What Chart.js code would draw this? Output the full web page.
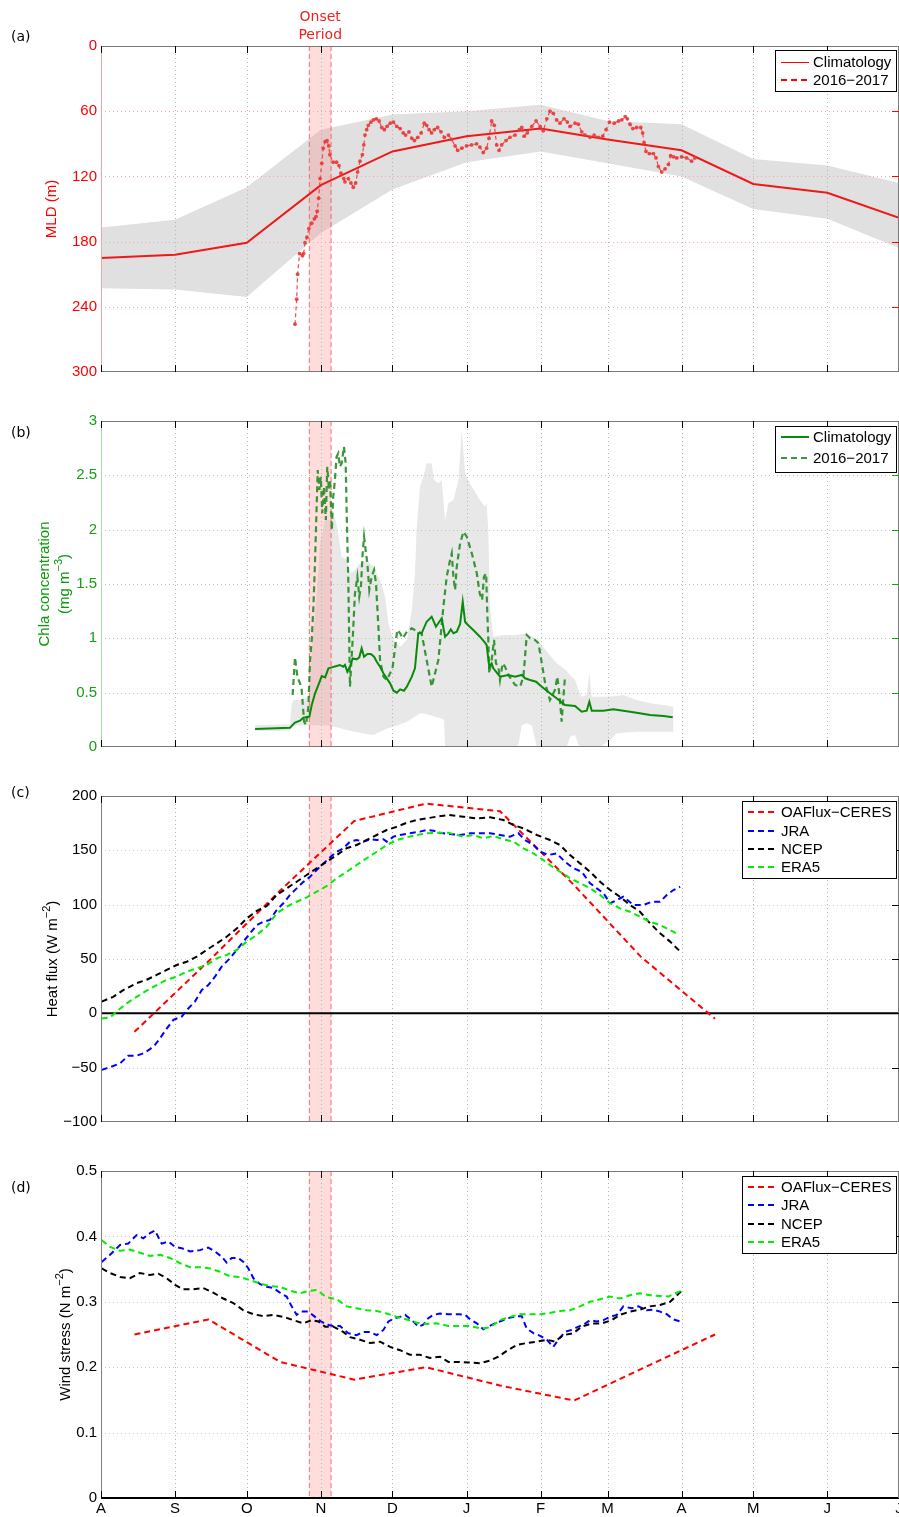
<!DOCTYPE html>
<html>
<head>
<meta charset="utf-8">
<script src="https://cdn.jsdelivr.net/npm/chart.js@4.4.1/dist/chart.umd.min.js"></script>
<style>
  body { margin: 0; background: #fff; }
  #wrap { position: relative; width: 899px; height: 1517px; }
  #wrap canvas { position: absolute; left: 0; }
</style>
</head>
<body>
<div id="wrap">
  <canvas id="pa" width="899" height="385" style="top:0px"></canvas>
  <canvas id="pb" width="899" height="375" style="top:385px"></canvas>
  <canvas id="pc" width="899" height="380" style="top:760px"></canvas>
  <canvas id="pd" width="899" height="377" style="top:1140px"></canvas>
</div>
<script>
// x axis: days since 1 Aug
const monthDays = [0, 31, 61, 92, 122, 153, 184, 212, 243, 273, 304, 334];
const monthLabels = ['A', 'S', 'O', 'N', 'D', 'J', 'F', 'M', 'A', 'M', 'J', 'J'];
const onsetDays = [87.2, 96.3];

// (a) mixed layer depth
const mldClim = [195, 192, 181, 128, 97, 83, 76, 86, 96, 127, 135, 158];
const mldBandShallow = [167, 160, 130, 77, 63, 60, 54, 69, 72, 104, 110, 126];
const mldBandDeep = [223, 224, 231, 172, 132, 107, 97, 108, 120, 150, 159, 186];
const mldObsDays = [
  81.2, 81.9, 82.3, 83.1, 84.3, 84.8, 85.4, 86.2, 87, 88.2,
  89.3, 90, 90.5, 91.1, 91.7, 92.4, 93, 93.8, 94.6, 95.3,
  95.8, 97.2, 98.6, 99.6, 100.4, 101.6, 102.1, 103.5, 104.6, 105.6,
  106.6, 107.4, 108.4, 109.4, 110, 110.5, 111.2, 111.9, 113, 114,
  115.2, 116.4, 117.5, 118.6, 119.7, 121.1, 122.4, 123.8, 125.2, 126.5,
  127.5, 128.9, 130.1, 131.2, 132.6, 134, 135.3, 136.3, 137.3, 138.4,
  139.5, 140.9, 142.3, 143.7, 145.4, 146.8, 148.2, 149.3, 151, 153,
  155.1, 157.2, 158.6, 160, 161.4, 162.4, 163.5, 164.6, 165.6, 166.6,
  167.7, 169.5, 171.2, 173.3, 175.1, 176.1, 177.1, 178.4, 180.3, 182.1,
  183.8, 185.1, 186.6, 187.9, 189.3, 190.7, 192.1, 193.8, 195.2, 196.3,
  198.4, 199.8, 201.2, 202.6, 204.7, 206.4, 208.2, 210, 211.4, 212.8,
  214.8, 216.6, 218, 219.4, 220.3, 221.4, 222.6, 224.2, 225.9, 226.7,
  227.3, 228.1, 229.5, 231.2, 232.3, 233.3, 234.7, 236.1, 237.5, 238.4,
  239.6, 241, 243, 245.1, 247.2, 248.6];
const mldObs = [
  256, 233, 210, 191, 193, 191, 181, 176, 168, 163,
  159, 157, 152, 140, 122, 108, 94, 88, 87, 92,
  100, 107, 107, 110, 117, 122, 125, 122, 126, 130,
  126, 116, 106, 100, 91, 82, 77, 73, 70, 68,
  67, 69, 75, 77, 74, 71, 70, 74, 76, 80,
  82, 79, 85, 87, 84, 80, 71, 73, 77, 80,
  77, 75, 79, 84, 82, 86, 92, 96, 94, 92,
  91, 90, 93, 98, 94, 85, 69, 73, 91, 96,
  91, 87, 84, 82, 77, 75, 83, 80, 74, 69,
  74, 78, 67, 60, 62, 68, 71, 67, 70, 74,
  71, 72, 79, 82, 84, 82, 84, 83, 77, 70,
  71, 69, 68, 65, 67, 72, 76, 75, 75, 80,
  89, 97, 99, 99, 103, 111, 116, 113, 109, 101,
  102, 103, 102, 103, 106, 103];

// (b) chlorophyll a
const chlaClimDays = [
  64.5, 79.1, 81.2, 83.3, 84.7, 87.2, 88.2, 89.6, 91, 92.4,
  93.8, 95.2, 96.6, 98.6, 100, 101.4, 102.1, 103.1, 104.2, 105.3,
  107, 108.1, 109.1, 110.1, 111.5, 112.9, 114.3, 115.4, 116.8, 118.2,
  119.6, 121, 122.4, 123.8, 125.2, 126.8, 128, 130.1, 131.4, 132.8,
  134.2, 136.3, 138.4, 140.2, 141.6, 142.6, 144, 145.4, 146.4, 147.5,
  148.9, 150.3, 151.4, 152.4, 153.7, 155.8, 158.6, 160.7, 161.4, 162.5,
  163.5, 164.2, 167, 170.5, 173.3, 176.1, 177.5, 179.6, 182.1, 184.5,
  187.9, 190.7, 194.2, 198.4, 201.2, 203.3, 204.4, 205.4, 210.3, 214.4,
  218.6, 224.2, 229.8, 235.4, 239.3];
const chlaClim = [
  0.166, 0.178, 0.224, 0.242, 0.27, 0.279, 0.387, 0.494, 0.571, 0.653,
  0.641, 0.724, 0.733, 0.745, 0.755, 0.739, 0.755, 0.693, 0.739, 0.816,
  0.807, 0.825, 0.908, 0.831, 0.856, 0.856, 0.831, 0.785, 0.739, 0.678,
  0.632, 0.586, 0.518, 0.5, 0.531, 0.518, 0.555, 0.647, 0.724, 1.046,
  1.046, 1.153, 1.199, 1.107, 1.153, 1.184, 1.015, 1.046, 1.083, 1.046,
  1.061, 1.132, 1.337, 1.15, 1.12, 1.077, 1.015, 0.96, 0.939, 0.739,
  0.77, 0.724, 0.647, 0.663, 0.647, 0.663, 0.632, 0.617, 0.601, 0.555,
  0.494, 0.448, 0.387, 0.377, 0.325, 0.334, 0.417, 0.334, 0.334, 0.347,
  0.334, 0.316, 0.294, 0.285, 0.273];
const chlaObsDays = [
  80.2, 81.2, 82.2, 83.3, 84, 85, 85.8, 86.8, 87.5, 88.2,
  88.9, 89.6, 90.3, 90.7, 91.4, 92, 92.6, 93.3, 94.1, 94.7,
  95.4, 95.9, 96.6, 97.2, 97.9, 98.6, 99.3, 100, 100.7, 101.7,
  102.4, 102.9, 103.5, 104.2, 105.4, 106.3, 107.3, 108.1, 108.8, 109.5,
  110.1, 110.9, 111.5, 112.3, 113.3, 114.3, 115.1, 116.1, 116.8, 118.2,
  119.6, 121, 122.1, 124, 125.2, 126.3, 128, 130.1, 131.9, 134.2,
  136.3, 138.4, 141.2, 143.3, 144.7, 146.1, 146.8, 147.5, 148.2, 148.9,
  150.3, 151.7, 153.1, 155.2, 157.3, 158.5, 159.5, 160.3, 161.2, 161.6,
  162.1, 162.5, 163.5, 164.5, 165.3, 166.3, 167, 168.1, 169.1, 170.5,
  173.3, 175.4, 176.8, 178.2, 179.6, 181.7, 183.1, 184.5, 185.9, 187.9,
  190, 191, 192.1, 192.8, 193.5, 194.2];
const chlaObs = [
  0.479, 0.825, 0.647, 0.586, 0.525, 0.233, 0.202, 0.371, 0.8, 0.985,
  1.291, 1.721, 2.243, 2.549, 2.365, 2.487, 2.151, 2.395, 2.089, 2.579,
  2.365, 2.457, 1.997, 2.303, 2.457, 2.671, 2.702, 2.579, 2.61, 2.763,
  2.61, 2.089, 1.537, 0.555, 1.015, 1.414, 1.567, 1.383, 1.475, 1.782,
  1.935, 1.782, 1.69, 1.445, 1.567, 1.629, 1.506, 1.107, 0.8, 0.647,
  0.617, 0.678, 0.739, 1.077, 1.046, 1.0, 1.061, 1.092, 1.07, 1.046,
  0.8, 0.555, 0.8, 1.291, 1.567, 1.721, 1.782, 1.567, 1.445, 1.659,
  1.874, 1.981, 1.935, 1.782, 1.598, 1.414, 1.353, 1.567, 1.598, 1.29,
  0.985, 0.678, 0.8, 0.985, 0.77, 0.739, 0.617, 0.77, 0.739, 0.663,
  0.571, 0.555, 0.647, 1.03, 1.0, 0.985, 0.954, 0.77, 0.586, 0.432,
  0.525, 0.647, 0.432, 0.233, 0.45, 0.647];
const chlaBandDays = [
  64.5, 79.1, 79.8, 80.5, 83.3, 86.8, 88.2, 90.3, 91.7, 93.8,
  96.6, 97.9, 99.3, 100.7, 102.9, 104.2, 106.3, 108.4, 111.2, 114,
  116.8, 118.9, 120.3, 122.4, 125.2, 128, 130.1, 131.4, 132.1, 133.5,
  134.9, 136.3, 138.4, 139.4, 141.2, 142.6, 143.6, 144, 145.4, 147.5,
  149.6, 151, 152.4, 155.2, 158.6, 160.7, 161.4, 162.1, 162.8, 164.2,
  168.4, 173.3, 174.7, 176.1, 178.2, 180.3, 182.4, 183.8, 187.2, 190.7,
  194.9, 196.3, 198.4, 199.8, 201.2, 203.3, 204.4, 205.4, 208.9, 213.1,
  215.9, 218.6, 224.2, 229.8, 235.4, 239.6];
const chlaBandHi = [
  0.2, 0.21, 0.386, 0.432, 0.432, 0.463, 0.862, 1.414, 1.874, 2.089,
  2.089, 2.12, 1.966, 1.751, 1.721, 1.598, 1.629, 1.69, 1.721, 1.659,
  1.537, 1.383, 1.138, 0.985, 0.923, 0.985, 1.261, 1.598, 1.997, 2.395,
  2.487, 2.61, 2.61, 2.457, 2.426, 2.457, 2.2, 2.089, 2.243, 2.273,
  2.457, 2.917, 2.518, 2.395, 2.273, 2.212, 2.243, 1.997, 1.291, 1.015,
  1.031, 1.031, 1.035, 1.04, 1.046, 1.02, 0.98, 0.954, 0.862, 0.77,
  0.7, 0.66, 0.617, 0.53, 0.463, 0.479, 0.678, 0.463, 0.463, 0.465,
  0.47, 0.479, 0.432, 0.402, 0.386, 0.371];
const chlaBandLo = [
  0.15, 0.15, 0.19, 0.2, 0.2, 0.2, 0.2, 0.2, 0.2, 0.2,
  0.19, 0.185, 0.18, 0.17, 0.156, 0.15, 0.14, 0.13, 0.12, 0.11,
  0.141, 0.16, 0.175, 0.187, 0.21, 0.233, 0.26, 0.28, 0.29, 0.31,
  0.31, 0.3, 0.29, 0.28, 0.27, 0.26, 0.248, 0, 0, 0,
  0, 0, 0, 0, 0, 0, 0, 0, 0, 0,
  0, 0, 0.02, 0.2, 0.218, 0.2, 0, 0, 0, 0,
  0, 0.095, 0.11, 0.02, 0, 0, 0, 0, 0, 0.064,
  0.126, 0.13, 0.14, 0.141, 0.141, 0.141];

// (c) heat flux, (d) wind stress
const fluxMonthDays = [14, 45, 75, 106, 136, 167, 198, 226, 257];
const heatOaflux = [-17, 48, 113, 177, 193, 186, 118, 52, -5];
const stressOaflux = [0.25, 0.273, 0.208, 0.181, 0.2, 0.172, 0.149, 0.197, 0.25];

const heatJraDays = [
  0.3, 5.1, 8, 11.4, 14.9, 17.7, 20.5, 22.6, 24.7, 27.5,
  30.3, 33.8, 35.9, 39.3, 42.2, 44.9, 47.7, 50.5, 54, 56.8,
  59.6, 62.4, 65.2, 67.9, 70.7, 73.5, 76.3, 79.1, 81.9, 84.7,
  87.5, 91.7, 95.9, 98.7, 101.4, 104.2, 107, 109.8, 112.6, 115.4,
  118.2, 119.6, 122.4, 125.2, 129.3, 133.5, 136.3, 139.1, 141.9, 145.4,
  150.3, 154.5, 158.6, 162.8, 167, 171.2, 174.7, 177.5, 181, 183.8,
  187.2, 190.7, 194.2, 197.7, 201.2, 204.7, 207.5, 210.3, 213.1, 215.9,
  218.6, 222.8, 227, 230.5, 234, 236.8, 239.6, 242.4];
const heatJra = [
  -52, -48.5, -46, -39, -39, -36.8, -33, -29, -23, -14,
  -6, -3, 3, 10.8, 21.5, 26, 33.7, 43, 50.7, 58.4,
  66, 73.6, 81.3, 84.3, 85.9, 95, 101.3, 109, 115, 121,
  125.7, 135, 143.6, 148.7, 151.8, 158, 159.5, 158, 160.2, 159.5,
  160.2, 158, 162.6, 164.1, 165.7, 167.2, 168.7, 168.1, 166.2, 165,
  164.1, 165.7, 165.7, 165.7, 164.1, 162.6, 165.7, 159.5, 154.9, 148.7,
  145.7, 147.2, 139.5, 133.5, 130.3, 119.7, 115, 110.5, 101.3, 104.3,
  107.3, 99.7, 99.7, 102.7, 102.7, 108.9, 113.5, 116.5];
const heatNcepDays = [
  0.3, 5.1, 9.3, 14.9, 19.1, 23.3, 27.5, 31.7, 35.9, 40.1,
  44.2, 48.4, 52.6, 56.8, 61, 65.2, 69.4, 73.5, 77.7, 81.9,
  86.1, 90.3, 94.5, 98.7, 102.8, 107, 111.2, 115.4, 119.6, 123.8,
  128, 132.1, 136.3, 140.5, 145.4, 151.7, 157.3, 162.8, 168.4, 172.6,
  176.8, 182.4, 187.9, 192.1, 196.3, 200.5, 204.7, 208.9, 213.1, 217.2,
  221.4, 225.6, 229.8, 234, 238.2, 242.1];
const heatNcep = [
  10.8, 15.2, 21.3, 27.8, 30.9, 35.3, 40, 44.5, 47.5, 52.2,
  58.3, 64.3, 70.5, 78, 87.3, 94.3, 98.8, 108.9, 115, 121.1,
  127.3, 133.5, 139.5, 145.7, 151.9, 154.9, 159.5, 164.1, 168.7, 171.7,
  175.4, 177.9, 179.4, 181, 182.5, 181, 179.4, 180.4, 177.9, 173.3,
  170.2, 164.1, 159.5, 154.9, 145.7, 138, 130.3, 121.1, 113.5, 107.3,
  99.7, 93.5, 82.9, 73.6, 66, 57.6];
const heatEraDays = [
  0.3, 3.8, 7.2, 10.8, 14.9, 19.1, 23.3, 27.5, 31.7, 35.9,
  40.1, 44.2, 48.4, 52.6, 56.8, 61, 65.2, 69.4, 73.5, 77.7,
  81.9, 86.1, 90.3, 94.5, 98.7, 102.8, 107, 111.2, 115.4, 119.6,
  123.8, 128, 132.1, 136.3, 140.5, 145.4, 151.7, 155.8, 160, 164.2,
  168.4, 172.6, 176.8, 181, 185.1, 187.9, 192.1, 196.3, 200.5, 204.7,
  208.9, 213.1, 217.2, 221.4, 225.6, 229.8, 234, 238.2, 242.1];
const heatEra = [
  -4.8, -3.8, 3, 9.2, 15.2, 20.8, 26, 30.9, 33.7, 38.4,
  41.4, 44.5, 50.6, 53.7, 58.3, 66, 72.1, 79.8, 92, 98.1,
  102.7, 106.7, 111.9, 117.2, 124.3, 130.3, 136.5, 142.7, 148.7, 154.9,
  159.5, 162, 164.1, 165.7, 166.2, 166.2, 162.6, 164.1, 161.1, 163.2,
  160.2, 158, 151.9, 147.2, 141.1, 136.5, 130.3, 124.3, 119.7, 115.1,
  108.9, 101.3, 96.6, 93.5, 88.9, 84.3, 81.3, 76.6, 72.1];

const stressJraDays = [
  0.3, 3.8, 8, 11.4, 14.9, 17.7, 20.5, 22.6, 25.4, 28.2,
  31, 33.8, 37.3, 41.4, 44.9, 47.7, 50.5, 52.6, 54.7, 57.5,
  59.6, 61.7, 63.8, 66.6, 69.4, 72.1, 74.9, 77.7, 79.8, 81.9,
  84, 86.8, 89.6, 91.7, 94.5, 97.2, 100, 103.5, 107, 109.8,
  112.6, 115.4, 118.2, 120.3, 123.1, 125.2, 127.3, 130.1, 132.8, 134.9,
  137, 139.1, 141.9, 145.4, 149.6, 152.4, 154.5, 157.3, 160, 162.1,
  164.9, 167.7, 170.5, 174, 176.1, 178.2, 181, 183.8, 186.6, 189.3,
  191.4, 194.2, 197, 199.8, 201.9, 204.7, 207.5, 210.3, 213.1, 215.9,
  218.6, 222.1, 224.9, 228.4, 231.2, 234, 236.8, 239.6, 242.4];
const stressJra = [
  0.361, 0.372, 0.387, 0.389, 0.402, 0.397, 0.405, 0.409, 0.389, 0.392,
  0.384, 0.382, 0.377, 0.379, 0.383, 0.377, 0.369, 0.36, 0.367, 0.367,
  0.361, 0.351, 0.336, 0.327, 0.323, 0.321, 0.314, 0.308, 0.293, 0.28,
  0.285, 0.285, 0.277, 0.271, 0.265, 0.263, 0.263, 0.252, 0.249, 0.254,
  0.254, 0.249, 0.257, 0.27, 0.275, 0.277, 0.28, 0.272, 0.262, 0.265,
  0.275, 0.28, 0.282, 0.281, 0.281, 0.28, 0.273, 0.267, 0.258, 0.262,
  0.267, 0.271, 0.275, 0.278, 0.278, 0.259, 0.252, 0.248, 0.242, 0.231,
  0.242, 0.254, 0.257, 0.262, 0.265, 0.272, 0.27, 0.272, 0.277, 0.28,
  0.293, 0.29, 0.293, 0.287, 0.288, 0.285, 0.281, 0.273, 0.27];
const stressNcepDays = [
  0.3, 3.8, 8, 12.1, 16.3, 20.5, 24, 27.5, 31, 34.4,
  38.6, 42.8, 47, 51.2, 55.4, 59.6, 63.8, 67.9, 72.1, 76.3,
  80.5, 84.7, 88.2, 91, 93.8, 97.2, 101.4, 104.2, 108.4, 112.6,
  116.8, 121, 125.2, 129.3, 133.5, 137.7, 141.9, 145.4, 150.3, 154.5,
  158.6, 162.8, 166.3, 169.8, 174, 178.2, 182.4, 186.6, 190, 193.5,
  197.7, 201.2, 205.4, 209.6, 213.8, 217.2, 221.4, 225.6, 229.8, 234,
  238.2, 243.1];
const stressNcep = [
  0.351, 0.344, 0.338, 0.336, 0.344, 0.341, 0.343, 0.336, 0.326, 0.319,
  0.319, 0.321, 0.314, 0.305, 0.298, 0.287, 0.281, 0.278, 0.28, 0.277,
  0.272, 0.267, 0.272, 0.27, 0.262, 0.262, 0.254, 0.246, 0.242, 0.237,
  0.239, 0.231, 0.226, 0.219, 0.219, 0.214, 0.216, 0.208, 0.208, 0.207,
  0.206, 0.21, 0.216, 0.225, 0.234, 0.237, 0.239, 0.242, 0.239, 0.249,
  0.252, 0.262, 0.267, 0.267, 0.272, 0.28, 0.285, 0.288, 0.293, 0.295,
  0.3, 0.317];
const stressEraDays = [
  0.3, 3.8, 8, 12.1, 16.3, 20.5, 24.7, 28.9, 33.1, 37.3,
  41.4, 45.6, 49.8, 54, 58.2, 62.4, 66.6, 70.7, 74.9, 79.1,
  83.3, 87.5, 90.3, 94.5, 98.7, 102.8, 107, 111.2, 115.4, 119.6,
  123.8, 128, 132.1, 136.3, 140.5, 145.4, 150.3, 154.5, 159.3, 162.8,
  167, 171.2, 175.4, 179.6, 183.8, 187.9, 192.1, 196.3, 200.5, 204.7,
  208.9, 213.1, 217.2, 221.4, 225.6, 229.8, 234, 237.5, 241, 243.1];
const stressEra = [
  0.394, 0.384, 0.378, 0.38, 0.375, 0.37, 0.372, 0.367, 0.359, 0.353,
  0.353, 0.351, 0.346, 0.339, 0.338, 0.333, 0.328, 0.324, 0.323, 0.317,
  0.313, 0.317, 0.318, 0.307, 0.304, 0.293, 0.29, 0.287, 0.286, 0.282,
  0.277, 0.273, 0.268, 0.266, 0.267, 0.263, 0.263, 0.263, 0.259, 0.261,
  0.272, 0.277, 0.281, 0.281, 0.281, 0.283, 0.286, 0.287, 0.293, 0.3,
  0.304, 0.308, 0.305, 0.31, 0.313, 0.31, 0.309, 0.308, 0.314, 0.317];

const FONT = '"Liberation Sans", Arial, Helvetica, sans-serif';
const TAGFONT = '14px "DejaVu Sans", sans-serif';

const pts = (xs, ys) => xs.map((x, i) => ({ x: x, y: ys[i] }));
const minus = s => String(s).replace('-', '\u2212');

// per-panel decoration (frame, grid, legend, titles)
const decorCfg = {
  pa: { tag: '(a)', tagY: 37, leftAxis: '#f5a3a3', hGrid: '#f2a9a9', sideTick: '#ff0000',
        titleColor: '#ff0000', titles: [{ x: 52, parts: [['MLD (m)', 0]] }],
        legend: { x: 775, y: 50, w: 121, h: 41, rows: [62, 80], line: [781, 809], text: 813 },
        onsetText: true },
  pb: { tag: '(b)', tagY: 48, leftAxis: '#aad8aa', hGrid: '#a6d4a6', sideTick: '#13a013',
        titleColor: '#0a9a0a',
        titles: [{ x: 45, parts: [['Chla concentration', 0]] },
                 { x: 65, parts: [['(mg m', 0], ['\u22123', 1], [')', 0]] }],
        legend: { x: 775, y: 41, w: 121, h: 46, rows: [52, 73], line: [781, 809], text: 813 } },
  pc: { tag: '(c)', tagY: 33, leftAxis: '#808080', hGrid: '#cccccc', sideTick: '#000', zero: true,
        titleColor: '#000', titles: [{ x: 53, parts: [['Heat flux (W m', 0], ['\u22122', 1], [')', 0]] }],
        legend: { x: 742, y: 41, w: 154, h: 77, rows: [52, 71, 89, 107], line: [748, 778], text: 781 } },
  pd: { tag: '(d)', tagY: 48, leftAxis: '#808080', hGrid: '#cccccc', sideTick: '#000', zero: true,
        xLabels: true, titleColor: '#000',
        titles: [{ x: 66, parts: [['Wind stress (N m', 0], ['\u22122', 1], [')', 0]] }],
        legend: { x: 742, y: 36, w: 154, h: 77, rows: [47, 65, 84, 102], line: [748, 778], text: 781 } }
};

function seg(ctx, x0, y0, x1, y1) {
  ctx.beginPath(); ctx.moveTo(x0, y0); ctx.lineTo(x1, y1); ctx.stroke();
}

function vtext(ctx, cx, cy, parts, color) {
  ctx.save();
  ctx.translate(cx, cy);
  ctx.rotate(-Math.PI / 2);
  ctx.fillStyle = color;
  ctx.textBaseline = 'middle';
  ctx.textAlign = 'left';
  let w = 0;
  parts.forEach(p => { ctx.font = p[1] ? '11px ' + FONT : '15px ' + FONT; w += ctx.measureText(p[0]).width; });
  let xx = -w / 2;
  parts.forEach(p => {
    ctx.font = p[1] ? '11px ' + FONT : '15px ' + FONT;
    ctx.fillText(p[0], xx, p[1] ? -6 : 0);
    xx += ctx.measureText(p[0]).width;
  });
  ctx.restore();
}

const decor = {
  id: 'decor',
  beforeDatasetsDraw(chart) {
    const c = decorCfg[chart.canvas.id];
    const ctx = chart.ctx, a = chart.chartArea, x = chart.scales.x, y = chart.scales.y;
    const x0 = x.getPixelForValue(onsetDays[0]), x1 = x.getPixelForValue(onsetDays[1]);
    ctx.save();
    ctx.fillStyle = 'rgba(255,120,120,0.25)';
    ctx.fillRect(x0, a.top, x1 - x0, a.bottom - a.top);
    ctx.lineWidth = 1;
    ctx.setLineDash([1, 3]);
    ctx.strokeStyle = '#b4b4b4';
    monthDays.slice(1, -1).forEach(d => {
      const px = Math.round(x.getPixelForValue(d)) + 0.5;
      seg(ctx, px, a.top, px, a.bottom);
    });
    ctx.strokeStyle = c.hGrid;
    y.ticks.forEach(t => {
      if (t.value === y.min || t.value === y.max) return;
      const py = Math.round(y.getPixelForValue(t.value)) + 0.5;
      seg(ctx, a.left, py, a.right, py);
    });
    ctx.setLineDash([5, 3]);
    ctx.strokeStyle = 'rgba(240,90,90,0.85)';
    seg(ctx, x0, a.top, x0, a.bottom);
    seg(ctx, x1, a.top, x1, a.bottom);
    if (c.zero) {
      ctx.setLineDash([]);
      ctx.lineWidth = 2;
      ctx.strokeStyle = '#000';
      const py = y.getPixelForValue(0);
      seg(ctx, a.left, py, a.right, py);
    }
    ctx.restore();
  },
  afterDatasetsDraw(chart) {
    const c = decorCfg[chart.canvas.id];
    const ctx = chart.ctx, a = chart.chartArea, x = chart.scales.x, y = chart.scales.y;
    ctx.save();
    ctx.setLineDash([]);
    ctx.lineWidth = 1;
    // box
    ctx.strokeStyle = '#7a7a7a';
    seg(ctx, a.left, a.top + 0.5, a.right, a.top + 0.5);
    if (chart.canvas.id !== 'pd') seg(ctx, a.left, a.bottom - 0.5, a.right, a.bottom - 0.5);
    seg(ctx, a.right - 0.5, a.top, a.right - 0.5, a.bottom);
    ctx.strokeStyle = c.leftAxis;
    seg(ctx, a.left + 0.5, a.top, a.left + 0.5, a.bottom);
    // month ticks, top and bottom, pointing in
    ctx.strokeStyle = '#000';
    monthDays.forEach(d => {
      const px = Math.round(x.getPixelForValue(d)) + 0.5;
      seg(ctx, px, a.top, px, a.top + 7);
      seg(ctx, px, a.bottom, px, a.bottom - 7);
    });
    // right side ticks
    ctx.strokeStyle = c.sideTick;
    y.ticks.forEach(t => {
      if (t.value === y.min || t.value === y.max) return;
      const py = Math.round(y.getPixelForValue(t.value)) + 0.5;
      seg(ctx, a.right - 7, py, a.right, py);
    });
    // legend
    const L = c.legend;
    ctx.fillStyle = '#fff';
    ctx.fillRect(L.x, L.y, L.w, L.h);
    ctx.strokeStyle = '#000';
    ctx.strokeRect(L.x + 0.5, L.y + 0.5, L.w, L.h);
    const items = chart.data.datasets.filter(ds => ds.inLegend);
    items.forEach((ds, i) => {
      const ry = L.rows[i];
      ctx.strokeStyle = ds.legendColor || ds.borderColor;
      ctx.lineWidth = ds.legendWidth || ds.borderWidth;
      ctx.setLineDash(ds.legendDash || ds.borderDash || []);
      const ly = ctx.lineWidth === 1 ? ry + 0.5 : ry;
      seg(ctx, L.line[0], ly, L.line[1], ly);
      ctx.setLineDash([]);
      ctx.fillStyle = '#000';
      ctx.font = '15px ' + FONT;
      ctx.textAlign = 'left';
      ctx.textBaseline = 'middle';
      ctx.fillText(ds.label, L.text, ry + 1);
    });
    // axis titles
    c.titles.forEach(t => vtext(ctx, t.x, (a.top + a.bottom) / 2, t.parts, c.titleColor));
    // panel tag
    ctx.fillStyle = '#000';
    ctx.font = TAGFONT;
    ctx.textAlign = 'left';
    ctx.textBaseline = 'middle';
    ctx.fillText(c.tag, 11, c.tagY);
    if (c.onsetText) {
      const mx = x.getPixelForValue((onsetDays[0] + onsetDays[1]) / 2);
      ctx.fillStyle = '#f22020';
      ctx.textAlign = 'center';
      ctx.textBaseline = 'alphabetic';
      ctx.fillText('Onset', mx, 21);
      ctx.fillText('Period', mx, 39);
    }
    if (c.xLabels) {
      ctx.fillStyle = '#000';
      ctx.font = '15px ' + FONT;
      ctx.textAlign = 'center';
      ctx.textBaseline = 'middle';
      monthDays.forEach((d, i) => ctx.fillText(monthLabels[i], x.getPixelForValue(d), a.bottom + 11));
    }
    ctx.restore();
  }
};

function panel(id, o) {
  return new Chart(document.getElementById(id), {
    type: 'line',
    data: { datasets: o.datasets },
    options: {
      responsive: false,
      animation: false,
      events: [],
      layout: { autoPadding: false, padding: { top: o.top, bottom: o.bottom, left: 0, right: 0 } },
      elements: { line: { tension: 0 }, point: { radius: 0 } },
      plugins: {
        legend: { display: false },
        tooltip: { enabled: false },
        filler: { drawTime: 'beforeDatasetsDraw' }
      },
      scales: {
        x: { type: 'linear', min: 0, max: 334, display: false },
        y: {
          type: 'linear', min: o.min, max: o.max, reverse: !!o.reverse,
          grid: { display: false, drawTicks: false },
          border: { display: false },
          ticks: {
            stepSize: o.step, color: o.tickColor, padding: 4,
            font: { family: FONT, size: 15 },
            callback: v => minus(+v.toFixed(2))
          },
          afterFit: s => { s.width = 101; }
        }
      }
    },
    plugins: [decor]
  });
}

const noLine = 'rgba(0,0,0,0)';

panel('pa', {
  top: 46, bottom: 13, min: 0, max: 300, step: 60, reverse: true, tickColor: '#ff0000',
  datasets: [
    { data: pts(monthDays, mldBandShallow), fill: '+1', backgroundColor: '#e0e0e0', borderColor: noLine, borderWidth: 0, order: 10 },
    { data: pts(monthDays, mldBandDeep), fill: false, borderColor: noLine, borderWidth: 0, order: 11 },
    { label: 'Climatology', inLegend: true, data: pts(monthDays, mldClim), borderColor: '#f01818', borderWidth: 2,
      legendColor: '#ff0000', legendWidth: 1, order: 2 },
    { label: '2016\u22122017', inLegend: true, data: pts(mldObsDays, mldObs), borderColor: 'rgba(240,60,60,0.9)',
      borderWidth: 1.2, borderDash: [4, 3], legendColor: '#ff0000', legendWidth: 2, legendDash: [6, 4],
      pointRadius: 1.9, pointBackgroundColor: 'rgba(235,55,55,0.9)', pointBorderWidth: 0, order: 1 }
  ]
});

panel('pb', {
  top: 36, bottom: 13, min: 0, max: 3, step: 0.5, tickColor: '#13a013',
  datasets: [
    { data: pts(chlaBandDays, chlaBandHi), fill: '+1', backgroundColor: '#e8e8e8', borderColor: noLine, borderWidth: 0, order: 10 },
    { data: pts(chlaBandDays, chlaBandLo), fill: false, borderColor: noLine, borderWidth: 0, order: 11 },
    { label: 'Climatology', inLegend: true, data: pts(chlaClimDays, chlaClim), borderColor: '#0a8a0a', borderWidth: 2, order: 1 },
    { label: '2016\u22122017', inLegend: true, data: pts(chlaObsDays, chlaObs), borderColor: 'rgba(35,140,35,0.9)',
      borderWidth: 2.2, borderDash: [6, 4], order: 2 }
  ]
});

const fluxSets = (oa, jraD, jra, ncD, nc, erD, er) => [
  { label: 'OAFlux\u2212CERES', inLegend: true, data: pts(fluxMonthDays, oa), borderColor: '#ff0000', borderWidth: 2, borderDash: [6, 4], order: 3 },
  { label: 'JRA', inLegend: true, data: pts(jraD, jra), borderColor: '#0000ff', borderWidth: 2, borderDash: [6, 4], order: 2 },
  { label: 'NCEP', inLegend: true, data: pts(ncD, nc), borderColor: '#000000', borderWidth: 2, borderDash: [6, 4], order: 1 },
  { label: 'ERA5', inLegend: true, data: pts(erD, er), borderColor: '#00ee00', borderWidth: 2, borderDash: [6, 4], order: 0 }
];

panel('pc', {
  top: 36, bottom: 18, min: -100, max: 200, step: 50, tickColor: '#000',
  datasets: fluxSets(heatOaflux, heatJraDays, heatJra, heatNcepDays, heatNcep, heatEraDays, heatEra)
});

panel('pd', {
  top: 31, bottom: 19, min: 0, max: 0.5, step: 0.1, tickColor: '#000',
  datasets: fluxSets(stressOaflux, stressJraDays, stressJra, stressNcepDays, stressNcep, stressEraDays, stressEra)
});
</script>
</body>
</html>
